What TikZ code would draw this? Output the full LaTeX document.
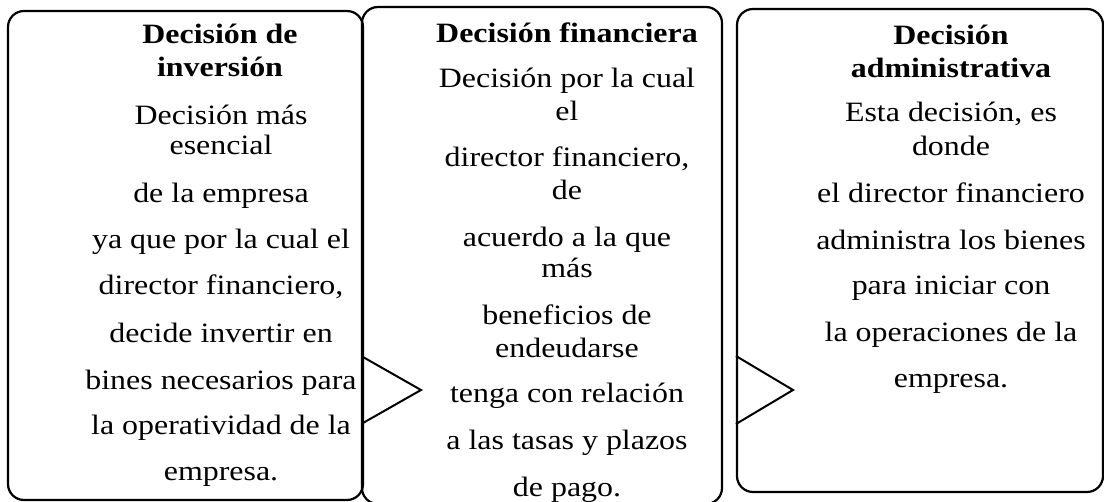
\documentclass[tikz,border=0pt]{standalone}
\usepackage{fontspec}
\setmainfont{Liberation Serif}[FakeStretch=1.14]
\begin{document}
\begin{tikzpicture}[x=1pt,y=-1pt,
  box/.style={draw, line width=2.2pt, rounded corners=16pt},
  tri/.style={draw, line width=2pt, line join=miter},
  txt/.style={anchor=base, inner sep=0pt, font=\fontsize{28}{30}\selectfont},
  ttl/.style={anchor=base, inner sep=0pt, font=\fontsize{28}{30}\selectfont\bfseries}]
\useasboundingbox (0,0) rectangle (1104,502);
\begin{scope}
\clip (0,0) rectangle (1104,502);
\draw[box] (8,11) rectangle (363,500);
\draw[box] (362,7) rectangle (722,504);
\draw[box] (737,9) rectangle (1103,492);
\draw[tri] (363,357) -- (421,390) -- (363,423);
\draw[tri] (736,356) -- (793,390) -- (736,424);
\end{scope}
% box 1
\foreach \t/\y [count=\i] in {{Decisión de}/44, {inversión}/77}
  \node[ttl] (ah\i) at (220,\y) {\t};
\foreach \t/\y [count=\i] in {{Decisión más}/124.5, {esencial}/155, {de la empresa}/203,
  {ya que por la cual el}/249, {director financiero,}/295, {decide invertir en}/343,
  {bines necesarios para}/390, {la operatividad de la}/435, {empresa.}/481}
  \node[txt] (a\i) at (221,\y) {\t};
% box 2
\node[ttl] (bh1) at (567,43) {Decisión financiera};
\foreach \t/\y [count=\i] in {{Decisión por la cual}/88, {el}/121, {director financiero,}/167,
  {de}/200, {acuerdo a la que}/247, {más}/278, {beneficios de}/325, {endeudarse}/358,
  {tenga con relación}/403, {a las tasas y plazos}/450, {de pago.}/497}
  \node[txt] (b\i) at (567,\y) {\t};
% box 3
\foreach \t/\y [count=\i] in {{Decisión}/45, {administrativa}/78}
  \node[ttl] (ch\i) at (951,\y) {\t};
\foreach \t/\y [count=\i] in {{Esta decisión, es}/122, {donde}/156, {el director financiero}/203,
  {administra los bienes}/250, {para iniciar con}/295, {la operaciones de la}/342, {empresa.}/388}
  \node[txt] (c\i) at (951,\y) {\t};
\end{tikzpicture}
\end{document}
